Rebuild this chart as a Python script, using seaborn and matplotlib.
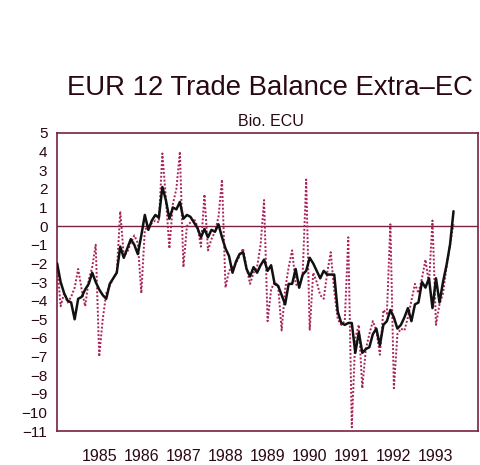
import numpy as np
import pandas as pd
import matplotlib
matplotlib.use("Agg")
import matplotlib.pyplot as plt
import seaborn as sns

# monthly data, Jan 1984 .. Jun 1993 (Bio. ECU)
start_year = 1984
trend = [-2.0, -3.0, -3.6, -4.0, -4.1, -5.0, -3.9, -3.8, -3.4, -3.1, -2.5, -3.0,
         -3.4, -3.7, -3.9, -3.1, -2.8, -2.5, -1.1, -1.7, -1.2, -0.7, -1.0, -1.5,
         -0.5, 0.6, -0.2, 0.3, 0.6, 0.45, 2.1, 1.4, 0.4, 1.0, 0.9, 1.3,
         0.4, 0.6, 0.5, 0.2, -0.1, -0.6, -0.15, -0.6, -0.2, -0.3, 0.1, -0.6,
         -1.2, -1.6, -2.5, -1.9, -1.5, -1.4, -2.3, -2.7, -2.2, -2.5, -2.1, -1.8,
         -2.4, -2.1, -3.1, -3.2, -3.7, -4.2, -3.1, -3.1, -2.3, -3.3, -2.6, -2.4,
         -1.7, -2.0, -2.4, -2.8, -2.4, -2.6, -2.6, -2.6, -4.6, -5.2, -5.3, -5.2,
         -5.2, -6.8, -5.7, -6.8, -6.6, -6.5, -5.8, -5.5, -6.4, -5.3, -5.1, -4.5,
         -4.9, -5.5, -5.3, -4.9, -4.4, -5.1, -4.2, -4.1, -3.0, -3.3, -2.8, -4.4,
         -2.8, -4.1, -3.0, -2.1, -1.0, 0.8]
raw = [-2.0, -4.3, -3.6, -4.1, -3.8, -3.3, -2.3, -3.4, -4.3, -2.9, -2.2, -1.0,
       -7.0, -5.0, -3.6, -3.2, -2.8, -2.5, 0.8, -1.6, -1.4, -0.9, -0.5, -0.9,
       -3.6, -0.2, 0.0, 0.15, 0.3, 0.2, 3.9, 1.5, -1.2, 1.2, 2.0, 4.0,
       -2.2, 0.0, 0.2, 0.4, 0.0, -1.1, 1.7, -1.3, -0.7, -0.3, 0.5, 2.5,
       -3.3, -2.4, -2.2, -2.0, -1.6, -1.2, -2.2, -3.1, -2.5, -2.2, -1.0, 1.4,
       -5.1, -3.4, -3.0, -3.2, -5.6, -3.4, -2.2, -1.3, -3.1, -3.3, -2.6, 2.5,
       -5.6, -2.5, -3.0, -3.7, -3.9, -2.5, -1.4, -3.5, -5.0, -5.3, -5.1, -0.6,
       -10.8, -6.0, -5.3, -8.7, -6.6, -5.8, -5.1, -5.6, -6.9, -4.5, -4.7, 0.1,
       -8.7, -5.8, -5.5, -5.6, -4.9, -4.0, -3.1, -3.6, -2.8, -1.8, -3.1, 0.3,
       -5.3, -4.2, -3.6, -2.2, -1.0, 0.1]
years = list(range(1985, 1994))
y_ticks = list(range(-11, 6))

t = start_year + np.arange(len(trend)) / 12
df = pd.DataFrame({"t": t, "trend": trend, "raw": raw})

sns.set_style("white")
plt.rcParams["font.family"] = ["Liberation Sans", "DejaVu Sans"]

frame = "#7a2040"
text_col = "#2a0812"

fig = plt.figure(figsize=(4.8, 4.65), dpi=100)
ax = fig.add_axes([0.119, 0.073, 0.877, 0.641])

ax.axhline(0, color=frame, lw=1.0, zorder=1)
sns.lineplot(data=df, x="t", y="raw", ax=ax, color="#a8245a", lw=1.4,
             linestyle=(0, (1, 1)), zorder=2)
sns.lineplot(data=df, x="t", y="trend", ax=ax, color="#111111", lw=1.8, zorder=3)

ax.set_xlim(1984, 1994)
ax.set_ylim(-11, 5)
ax.set_xticks(years)
ax.set_xticklabels([str(y) for y in years])
ax.set_yticks(y_ticks)
ax.set_yticklabels([str(v).replace("-", "\u2212") for v in y_ticks])
ax.set_xlabel("")
ax.set_ylabel("")
ax.tick_params(axis="y", direction="in", length=7, width=1.5, color=text_col,
               labelsize=11, pad=7, labelcolor=text_col)
ax.tick_params(axis="x", direction="in", length=5, width=1.5, color=text_col,
               labelsize=11.5, pad=13, labelcolor=text_col)
for s in ax.spines.values():
    s.set_color(frame)
    s.set_linewidth(1.2)

fig.text(0.562, 0.81, "EUR 12 Trade Balance Extra\u2013EC", ha="center", va="center",
         fontsize=19.8, color=text_col)
fig.text(0.565, 0.738, "Bio. ECU", ha="center", va="center", fontsize=11.5,
         color=text_col)

fig.savefig("out.png", dpi=100)
